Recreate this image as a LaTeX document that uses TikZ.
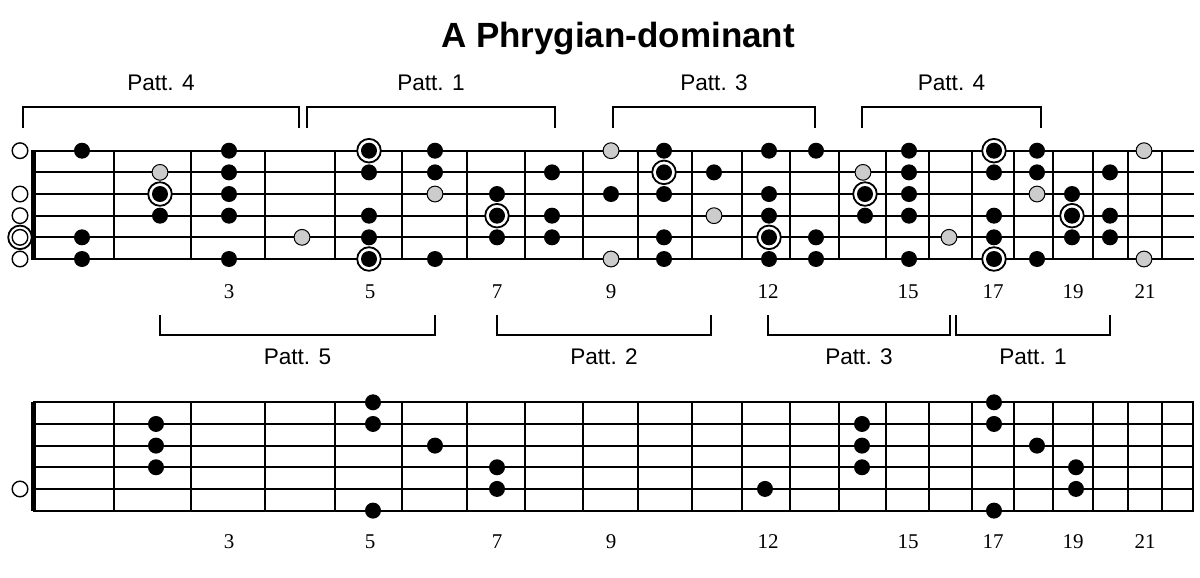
\documentclass[tikz,border=0pt]{standalone}
\usepackage{fontspec}
\setmainfont{Liberation Serif}
\newfontfamily\pattfont{Liberation Sans}
\usetikzlibrary{positioning}
\definecolor{notegray}{gray}{0.8}

\begin{document}
\begin{tikzpicture}[x=0.5pt, y=-0.5pt,
      stringline/.style = {line width=1.1pt},
      fretline/.style = {line width=1.1pt},
      nutline/.style = {line width=2.5pt},
      pattbracket/.style = {line width=1pt},
      blacknote/.style = {shape=circle, fill=black, inner sep=0pt, minimum size=8pt},
      graynote/.style = {shape=circle, draw=black, line width=0.5pt,
        fill=notegray, inner sep=0pt, minimum size=7.9pt},
      rootring/.style = {shape=circle, draw=black, fill=white, line width=0.9pt,
        inner sep=0pt, minimum size=11.8pt},
      opennote/.style = {shape=circle, draw=black, fill=white, line width=0.7pt,
        inner sep=0pt, minimum size=7.8pt},
      pattlabel/.style = {font=\pattfont\fontsize{11.3}{13}\selectfont,
        anchor=base, inner sep=0pt},
      fretno/.style = {font=\fontsize{10.5}{12}\selectfont, anchor=base, inner sep=0pt}]
  \useasboundingbox (0,0) rectangle (1200,578);

  \node[font=\pattfont\bfseries\fontsize{17.5}{21}\selectfont, anchor=base,
    inner sep=0pt] (title) at (618,47.7) {A Phrygian-dominant};

  % the two necks
  \foreach \b/\yy in {top/150.7, bot/402.3} {
    \foreach \r in {0,...,5}
      \draw[stringline] (33,\yy+21.66*\r) -- (1194,\yy+21.66*\r);
    \foreach \x in {114,191,265,335,402,467,525,583,638,692,742,790,
                    839,886,929,972,1014,1053,1093,1128,1162}
      \draw[fretline] (\x,\yy) -- (\x,\yy+108.3);
    \draw[nutline] (33,\yy-0.5) -- (33,\yy+108.8);
  }
  \draw[fretline] (1193,402.3) -- (1193,510.6);

  % fret numbers
  \foreach \n/\x in {3/229,5/370,7/497,9/611,12/768,15/908,17/993,19/1073,21/1145} {
    \node[fretno] (numtop\n) at (\x,298) {\n};
    \node[fretno] (numbot\n) at (\x,548) {\n};
  }

  % patterns above and below the top neck
  \foreach \a/\c/\p [count=\i] in {23/299/4, 307/555/1, 613/815/3, 862/1041/4} {
    \draw[pattbracket] (\a,128) |- (\c,107) -- (\c,128);
    \node[pattlabel] (pattup\i) at ({(\a+\c)/2},90.3) {Patt. \p};
  }
  \foreach \a/\c/\p [count=\i] in {160/435/5, 497/711/2, 768/950/3, 956/1110/1} {
    \draw[pattbracket] (\a,315) |- (\c,335) -- (\c,315);
    \node[pattlabel] (pattdown\i) at ({(\a+\c)/2},364) {Patt. \p};
  }

  % top neck: all notes of the scale
  \foreach \x/\r in {369/1, 994/1, 664/2, 160/3, 865/3, 497/4, 1072/4, 769/5,
                     369/6, 994/6, 20/5}
    \node[rootring] (ringtop\r-\x) at (\x,129.04+21.66*\r) {};
  \foreach \r in {1,3,4,5,6}
    \node[opennote] (opentop\r) at (20,129.04+21.66*\r) {};
  \foreach \r/\xs in {1/{82,229,369,435,664,769,816,909,994,1037},
                      2/{229,369,435,552,664,714,909,994,1037,1110},
                      3/{160,229,497,611,664,769,865,909,1072},
                      4/{160,229,369,497,552,769,865,909,994,1072,1110},
                      5/{82,369,497,552,664,769,816,994,1072,1110},
                      6/{82,229,369,435,664,769,816,909,994,1037}}
    \foreach \x in \xs
      \node[blacknote] (top\r-\x) at (\x,129.04+21.66*\r) {};
  \foreach \r/\xs in {1/{611,1144}, 2/{160,863}, 3/{435,1037}, 4/{714},
                      5/{302,949}, 6/{611,1144}}
    \foreach \x in \xs
      \node[graynote] (graytop\r-\x) at (\x,129.04+21.66*\r) {};

  % bottom neck
  \node[opennote] (openbot5) at (20,489) {};
  \foreach \r/\xs in {1/{373,994}, 2/{156,373,862,994}, 3/{156,435,862,1037},
                      4/{156,497,862,1076}, 5/{497,765,1076}, 6/{373,994}}
    \foreach \x in \xs
      \node[blacknote] (bot\r-\x) at (\x,380.64+21.66*\r) {};
\end{tikzpicture}
\end{document}
